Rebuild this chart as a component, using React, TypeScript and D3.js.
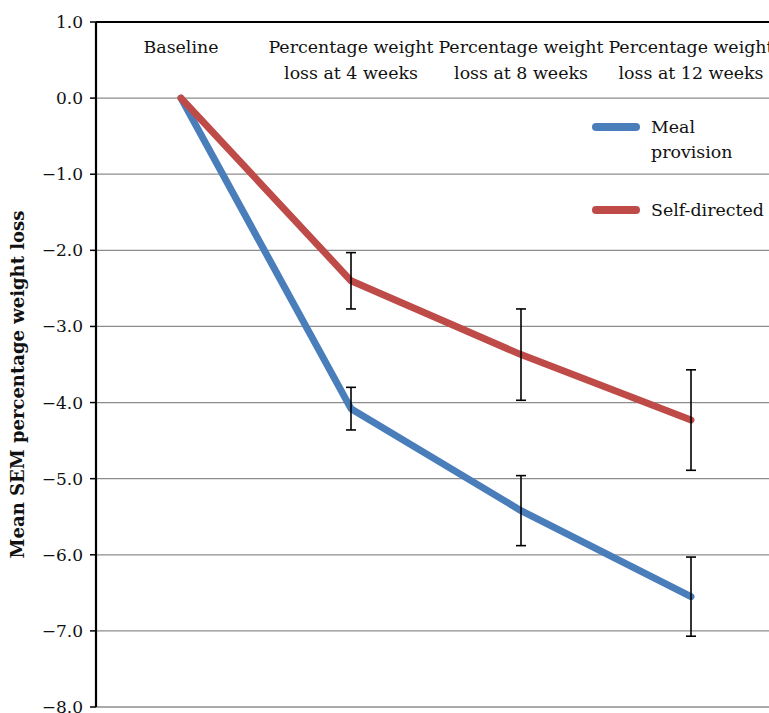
import React from "react";
import * as d3 from "d3";

const categories = ["Baseline", "Percentage weight\nloss at 4 weeks", "Percentage weight\nloss at 8 weeks", "Percentage weight\nloss at 12 weeks"];
const mealValues = [0, -4.08, -5.42, -6.55];
const mealSem = [0, 0.28, 0.46, 0.52];
const selfValues = [0, -2.4, -3.37, -4.23];
const selfSem = [0, 0.37, 0.6, 0.66];
const yTicks = [1, 0, -1, -2, -3, -4, -5, -6, -7, -8];

const W = 769, H = 713;
const left = 96, top = 22, bottom = 707, right = 776;
const FONT = "DejaVu Serif";

export default function App() {
  const x = d3.scaleBand<number>().domain(d3.range(categories.length)).range([left, right]);
  const y = d3.scaleLinear().domain([-8, 1]).range([bottom, top]);
  const cx = (i: number) => (x(i) as number) + x.bandwidth() / 2;
  const line = d3.line<number>().x((_, i) => cx(i)).y((d) => y(d));
  const series = [
    { name: ["Meal", "provision"], values: mealValues, sem: mealSem, color: "#4a7ebb", ly: 127 },
    { name: ["Self-directed"], values: selfValues, sem: selfSem, color: "#be4b48", ly: 210 },
  ];
  return (
    <svg width={W} height={H} style={{ position: "absolute", left: 0, top: 0 }} fontFamily={FONT}>
      <rect width={W} height={H} fill="#fff" />
      {yTicks.map((t) => (
        <g key={t}>
          {t !== 1 && <line x1={left} x2={right} y1={y(t)} y2={y(t)} stroke="#8c8c8c" strokeWidth={1.3} />}
          <line x1={left - 6} x2={left} y1={y(t)} y2={y(t)} stroke="#000" strokeWidth={1.5} />
          <text x={left - 13} y={y(t)} dy="0.35em" textAnchor="end" fontSize={17} fill="#111">
            {t === 0 ? "0.0" : (t < 0 ? "\u2212" : "") + Math.abs(t).toFixed(1)}
          </text>
        </g>
      ))}
      <line x1={left} x2={right} y1={top} y2={top} stroke="#000" strokeWidth={2.2} />
      <line x1={left} x2={left} y1={top} y2={bottom} stroke="#000" strokeWidth={2.2} />
      {categories.map((c, i) => (
        <text key={i} x={cx(i)} y={53} textAnchor="middle" fontSize={17.4} fill="#111">
          {c.split("\n").map((s, j) => (
            <tspan key={j} x={cx(i)} dy={j === 0 ? 0 : 26}>{s}</tspan>
          ))}
        </text>
      ))}
      {series.map((s) => (
        <g key={s.color}>
          <path d={line(s.values) || ""} fill="none" stroke={s.color} strokeWidth={7} strokeLinejoin="round" strokeLinecap="round" />
          {s.values.map((v, i) =>
            s.sem[i] > 0 ? (
              <g key={i} stroke="#000" strokeWidth={1.6}>
                <line x1={cx(i)} x2={cx(i)} y1={y(v + s.sem[i])} y2={y(v - s.sem[i])} />
                <line x1={cx(i) - 5} x2={cx(i) + 5} y1={y(v + s.sem[i])} y2={y(v + s.sem[i])} />
                <line x1={cx(i) - 5} x2={cx(i) + 5} y1={y(v - s.sem[i])} y2={y(v - s.sem[i])} />
              </g>
            ) : null
          )}
          <line x1={596} x2={636} y1={s.ly} y2={s.ly} stroke={s.color} strokeWidth={8} strokeLinecap="round" />
          <text x={651} y={s.ly} dy="0.35em" fontSize={17.4} fill="#111">
            {s.name.map((n, j) => (
              <tspan key={j} x={651} dy={j === 0 ? "0.35em" : 25}>{n}</tspan>
            ))}
          </text>
        </g>
      ))}
      <text transform={`translate(24,${(top + bottom) / 2 + 20}) rotate(-90)`} textAnchor="middle" fontSize={18} fontWeight="bold" fill="#111">
        Mean SEM percentage weight loss
      </text>
    </svg>
  );
}
